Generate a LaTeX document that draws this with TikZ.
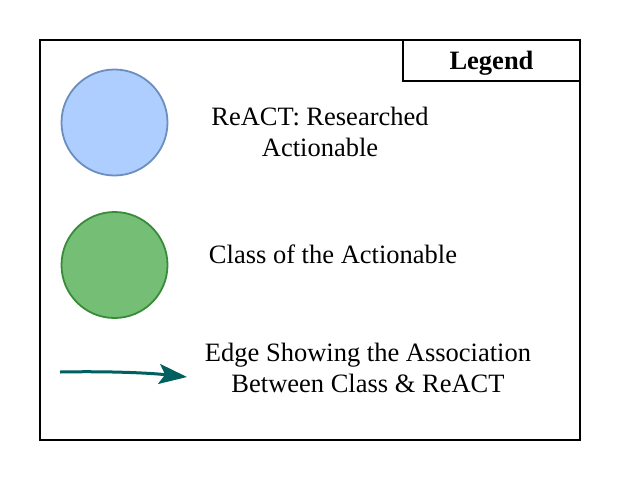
\documentclass[tikz,border=0pt]{standalone}
\usepackage{fontspec}
\setmainfont{Liberation Serif}
\usetikzlibrary{arrows.meta}
\definecolor{bluefill}{RGB}{173,206,255}
\definecolor{bluedraw}{RGB}{108,142,191}
\definecolor{greenfill}{RGB}{117,190,117}
\definecolor{greendraw}{RGB}{56,140,56}
\definecolor{teal}{RGB}{0,96,96}
\tikzset{
  frame/.style={draw=black, line width=1.8pt},
  blob/.style={circle, minimum size=106pt, inner sep=0pt, line width=1.8pt},
  label/.style={font=\fontsize{26.5}{31.5}\selectfont, align=center, inner sep=0pt},
  assoc/.style={draw=teal, line width=3pt, -{Stealth[length=28pt,width=20pt,inset=6pt]}},
}
\begin{document}
\begin{tikzpicture}[x=1pt,y=-1pt]
\useasboundingbox (0,0) rectangle (620,480);
\draw[frame] (40,40) rectangle (580,440);
\draw[frame] (403,40) rectangle (580,81);
\node[font=\fontsize{26.5}{30}\selectfont\bfseries] (legend) at (491.5,63) {Legend};
\node[blob, draw=bluedraw, fill=bluefill] (react) at (114.5,122.5) {};
\node[blob, draw=greendraw, fill=greenfill] (cls) at (114.5,265) {};
\node[label] (reacttxt) at (320,132) {ReACT: Researched\\Actionable};
\node[label] (clstxt) at (333,254) {Class of the Actionable};
\node[label] (edgetxt) at (368,368) {Edge Showing the Association\\Between Class \& ReACT};
\coordinate (a0) at (60,372);
\coordinate (a1) at (187,377);
\draw[assoc] (a0) .. controls (110,371) and (150,373) .. (a1);
\end{tikzpicture}
\end{document}
